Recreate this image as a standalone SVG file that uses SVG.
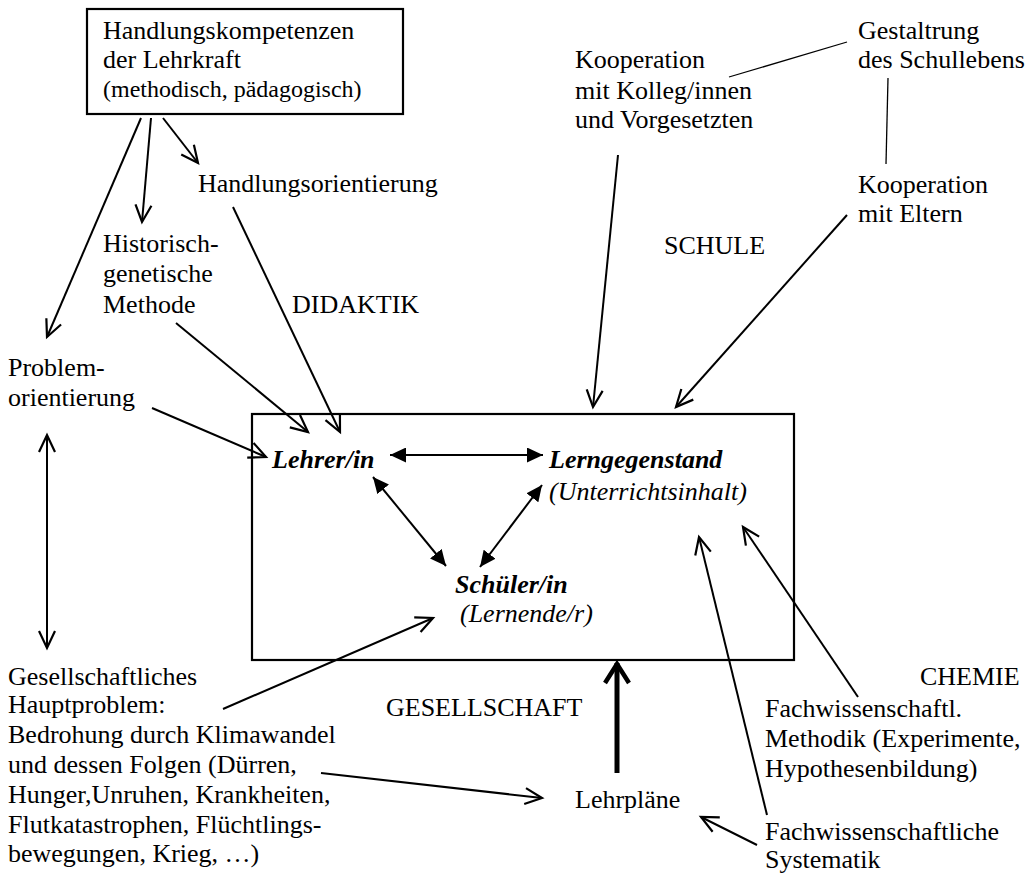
<svg xmlns="http://www.w3.org/2000/svg" width="1036" height="874" viewBox="0 0 1036 874">
<style>
text{font-family:"Liberation Serif","Times New Roman",serif;font-size:26px;fill:#000}
.bi{font-weight:bold;font-style:italic}
.it{font-style:italic}
.sm{font-size:24px}
.ln{stroke:#000;stroke-width:2;fill:none}
.thin{stroke:#000;stroke-width:1.3;fill:none}
.box{stroke:#000;stroke-width:2.2;fill:none}
</style>
<defs>
<marker id="open" markerUnits="userSpaceOnUse" viewBox="0 0 22 22" refX="19" refY="11" markerWidth="22" markerHeight="22" orient="auto-start-reverse">
<path d="M2,3 L19,11 L2,19" fill="none" stroke="#000" stroke-width="2.2"/>
</marker>
<marker id="fill" markerUnits="userSpaceOnUse" viewBox="0 0 17 15" refX="16" refY="7.5" markerWidth="17" markerHeight="15" orient="auto-start-reverse">
<path d="M0,0 L16,7.5 L0,15 Z" fill="#000"/>
</marker>
<marker id="thick" markerUnits="userSpaceOnUse" viewBox="0 0 30 30" refX="25" refY="15" markerWidth="30" markerHeight="30" orient="auto">
<path d="M5,3 L24,15 L5,27" fill="none" stroke="#000" stroke-width="4.5" stroke-linejoin="miter"/>
</marker>
</defs>

<g id="connectors">
<line class="ln" x1="163" y1="118" x2="198" y2="163" marker-end="url(#open)"/>
<line class="ln" x1="151" y1="118" x2="142" y2="222" marker-end="url(#open)"/>
<line class="ln" x1="141" y1="118" x2="47" y2="337" marker-end="url(#open)"/>
<line class="ln" x1="233" y1="207" x2="340" y2="432" marker-end="url(#open)"/>
<line class="ln" x1="176" y1="323" x2="308" y2="432" marker-end="url(#open)"/>
<line class="ln" x1="152" y1="408" x2="266" y2="457" marker-end="url(#open)"/>
<line class="ln" x1="47" y1="435" x2="47" y2="648" marker-start="url(#open)" marker-end="url(#open)"/>
<line class="ln" x1="390" y1="455" x2="543" y2="455" marker-start="url(#fill)" marker-end="url(#fill)"/>
<line class="ln" x1="373" y1="477" x2="446" y2="566" marker-start="url(#fill)" marker-end="url(#fill)"/>
<line class="ln" x1="542" y1="485" x2="480" y2="567" marker-start="url(#fill)" marker-end="url(#fill)"/>
<line class="ln" x1="618" y1="155" x2="593" y2="407" marker-end="url(#open)"/>
<line class="ln" x1="847" y1="215" x2="676" y2="407" marker-end="url(#open)"/>
<line class="thin" x1="847" y1="42" x2="729" y2="77"/>
<line class="thin" x1="888" y1="78" x2="886" y2="164"/>
<line class="ln" x1="767" y1="815" x2="699" y2="537" marker-end="url(#open)"/>
<line class="ln" x1="858" y1="697" x2="743" y2="527" marker-end="url(#open)"/>
<line class="ln" x1="757" y1="845" x2="701" y2="817" marker-end="url(#open)"/>
<line x1="617" y1="773" x2="617" y2="663" stroke="#000" stroke-width="5" marker-end="url(#thick)"/>
<line class="ln" x1="321" y1="773" x2="542" y2="798" marker-end="url(#open)"/>
<line class="ln" x1="223" y1="709" x2="433" y2="618" marker-end="url(#open)"/>
</g>

<g id="n-handlungskompetenzen">
<rect class="box" x="87" y="9" width="316" height="105"/>
<text x="103" y="39">Handlungskompetenzen</text>
<text x="103" y="68">der Lehrkraft</text>
<text class="sm" x="103" y="97">(methodisch, pädagogisch)</text>
</g>
<g id="n-handlungsorientierung"><text x="198" y="192">Handlungsorientierung</text></g>
<g id="n-historisch">
<text x="103" y="252">Historisch-</text>
<text x="103" y="282">genetische</text>
<text x="103" y="313">Methode</text>
</g>
<g id="n-didaktik"><text x="292" y="313">DIDAKTIK</text></g>
<g id="n-problem">
<text x="8" y="376">Problem-</text>
<text x="8" y="406">orientierung</text>
</g>
<g id="n-kooperation-kolleg">
<text x="575" y="68">Kooperation</text>
<text x="575" y="99">mit Kolleg/innen</text>
<text x="575" y="128">und Vorgesetzten</text>
</g>
<g id="n-gestaltung">
<text x="858" y="39">Gestaltrung</text>
<text x="858" y="68">des Schullebens</text>
</g>
<g id="n-kooperation-eltern">
<text x="858" y="193">Kooperation</text>
<text x="858" y="222">mit Eltern</text>
</g>
<g id="n-schule"><text x="664" y="254">SCHULE</text></g>
<g id="n-unterricht">
<rect class="box" x="252" y="414" width="542" height="246"/>
</g>
<g id="n-lehrer"><text class="bi" x="272" y="468">Lehrer/in</text></g>
<g id="n-lerngegenstand">
<text class="bi" x="549" y="468">Lerngegenstand</text>
<text class="it" x="549" y="500">(Unterrichtsinhalt)</text>
</g>
<g id="n-schueler">
<text class="bi" x="455" y="593">Schüler/in</text>
<text class="it" x="460" y="622">(Lernende/r)</text>
</g>
<g id="n-gesellschaft"><text x="386" y="716">GESELLSCHAFT</text></g>
<g id="n-lehrplaene"><text x="575" y="808">Lehrpläne</text></g>
<g id="n-chemie"><text x="920" y="685">CHEMIE</text></g>
<g id="n-methodik">
<text x="765" y="717">Fachwissenschaftl.</text>
<text x="765" y="747">Methodik (Experimente,</text>
<text x="765" y="777">Hypothesenbildung)</text>
</g>
<g id="n-systematik">
<text x="765" y="840">Fachwissenschaftliche</text>
<text x="765" y="868">Systematik</text>
</g>
<g id="n-hauptproblem">
<text x="8" y="685">Gesellschaftliches</text>
<text x="8" y="713">Hauptproblem:</text>
<text x="8" y="743">Bedrohung durch Klimawandel</text>
<text x="8" y="773">und dessen Folgen (Dürren,</text>
<text x="8" y="803">Hunger,Unruhen, Krankheiten,</text>
<text x="8" y="833">Flutkatastrophen, Flüchtlings-</text>
<text x="8" y="862">bewegungen, Krieg, …)</text>
</g>
</svg>
